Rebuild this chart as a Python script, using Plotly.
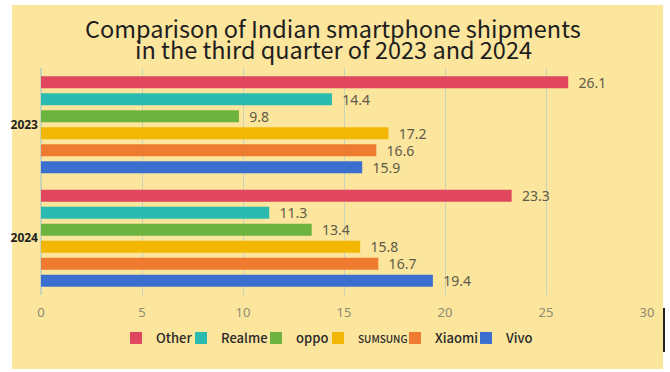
import plotly.graph_objects as go

years = ["2023", "2024"]
brands = ["Other", "Realme", "oppo", "SUMSUNG", "Xiaomi", "Vivo"]
legend_names = ["Other", "Realme", "oppo",
                "<span style='font-size:10px'>SUMSUNG</span>", "Xiaomi", "Vivo"]
values = {
    "Other": [26.1, 23.3],
    "Realme": [14.4, 11.3],
    "oppo": [9.8, 13.4],
    "SUMSUNG": [17.2, 15.8],
    "Xiaomi": [16.6, 16.7],
    "Vivo": [15.9, 19.4],
}
colors = ["#E0475E", "#2BBAB0", "#6DB33F", "#F2B705", "#EE7B30", "#3A6FCF"]
x_ticks = [0, 5, 10, 15, 20, 25, 30]
title_lines = ["Comparison of Indian smartphone shipments",
               "in the third quarter of 2023 and 2024"]

BG = "#FCE59D"
L, R, T, B = 41, 23, 68, 77
W, H = 670, 372
pw, ph = W - L - R, H - T - B


def px2x(px):
    return (px - L) / pw


def py2y(py):
    return (H - B - py) / ph


# left pixel of each legend entry
legend_px = [116, 181, 256, 318, 395, 466]

fig = go.Figure()
for i, (b, ln, c) in enumerate(zip(brands, legend_names, colors)):
    lg = "legend" if i == 0 else f"legend{i + 1}"
    fig.add_trace(go.Bar(
        y=years, x=values[b], name=ln, orientation="h",
        marker=dict(color=c, line=dict(width=0)),
        text=[f"  {v}" for v in values[b]], textposition="outside",
        constraintext="none", cliponaxis=False,
        textfont=dict(family="Noto Sans", size=14, color="#5E5B4A"),
        legend=lg,
    ))

legend_common = dict(
    orientation="h", xanchor="left", yanchor="middle", y=py2y(338),
    font=dict(family="Noto Sans CJK SC", size=13, color="#2A2A2A", weight=500),
    itemwidth=30, bgcolor="rgba(0,0,0,0)", borderwidth=0,
)
legends = {}
for i, px in enumerate(legend_px):
    key = "legend" if i == 0 else f"legend{i + 1}"
    legends[key] = dict(legend_common, x=px2x(px))

fig.add_shape(type="rect", xref="paper", yref="paper", layer="below",
              x0=px2x(12), x1=px2x(663), y0=py2y(369), y1=py2y(5),
              fillcolor=BG, line=dict(width=0))
fig.add_shape(type="line", xref="paper", yref="paper",
              x0=px2x(664), x1=px2x(664), y0=py2y(352), y1=py2y(308),
              line=dict(color="#222222", width=2))

for txt, py in zip(title_lines, [28, 49]):
    fig.add_annotation(
        text=txt, xref="paper", yref="paper", x=px2x(333), y=py2y(py),
        xanchor="center", yanchor="middle", showarrow=False,
        font=dict(family="Noto Sans CJK SC", size=23.5, color="#1E1E1E"),
    )

fig.update_layout(
    width=W, height=H,
    margin=dict(l=L, r=R, t=T, b=B),
    paper_bgcolor="white",
    plot_bgcolor="rgba(0,0,0,0)",
    barmode="group",
    bargap=0.1,
    bargroupgap=0.3,
    xaxis=dict(
        range=[0, 30], tickvals=x_ticks, showgrid=True,
        gridcolor="#C9D3B8", gridwidth=1, zeroline=True, zerolinecolor="#C9D3B8",
        showline=False, ticks="", ticklabelstandoff=8,
        tickfont=dict(family="Noto Sans", size=13, color="#8E8C72"),
    ),
    yaxis=dict(
        type="category", autorange="reversed", showgrid=False, showline=False,
        ticks="", tickfont=dict(family="Noto Sans", size=12, color="#222222", weight="bold"),
        ticklabelstandoff=2,
    ),
    showlegend=True,
    **legends,
)

fig.write_html("out.html")
